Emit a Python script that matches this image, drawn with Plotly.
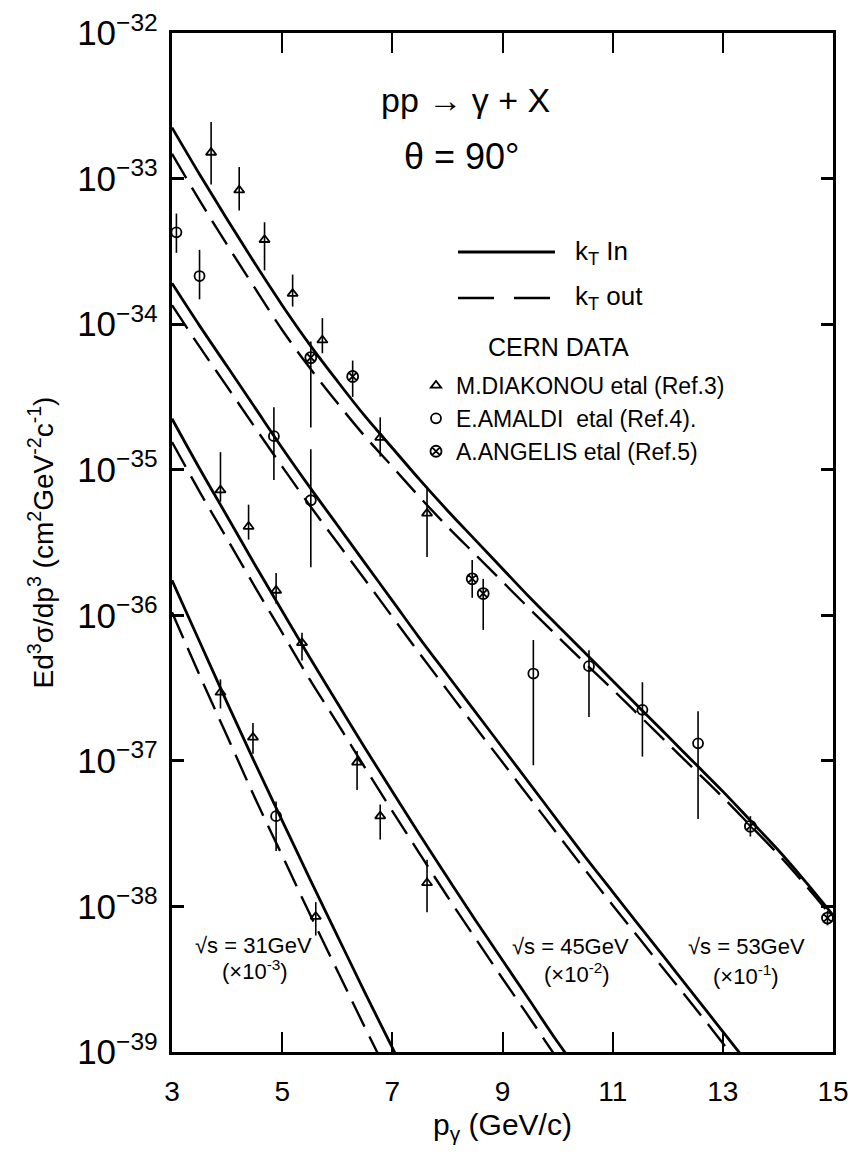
import plotly.graph_objects as go

# ---------------- data ----------------
# theory curves: solid = kT in, dashed = kT out
xA = [3, 3.5, 4, 4.5, 5, 5.5, 6, 6.5, 7, 7.5, 8, 8.5, 9, 9.5, 10, 10.5, 11, 11.5, 12, 12.5, 13, 13.5, 14, 14.5, 15]
yA_in = [2.24e-33, 1.07e-33, 5.25e-34, 2.63e-34, 1.35e-34, 7.24e-35, 4.07e-35, 2.34e-35, 1.41e-35, 8.51e-36,
         5.25e-36, 3.31e-36, 2.09e-36, 1.32e-36, 8.51e-37, 5.50e-37, 3.55e-37, 2.29e-37, 1.48e-37, 9.55e-38,
         6.17e-38, 3.89e-38, 2.45e-38, 1.48e-38, 8.71e-39]
yA_out = [1.48e-33, 7.08e-34, 3.51e-34, 1.78e-34, 9.12e-35, 5.01e-35, 2.88e-35, 1.70e-35, 1.05e-35, 6.46e-36,
          4.07e-36, 2.63e-36, 1.70e-36, 1.10e-36, 7.16e-37, 4.68e-37, 3.09e-37, 2.02e-37, 1.32e-37, 8.61e-38,
          5.62e-38, 3.59e-38, 2.29e-38, 1.40e-38, 8.32e-39]

xB = [3, 3.5, 4, 4.5, 5, 5.5, 6, 6.5, 7, 7.5, 8, 8.5, 9, 9.5, 10, 10.5, 11, 11.5, 12, 12.5, 13, 13.5]
yB_in = [1.91e-34, 9.77e-35, 5.13e-35, 2.69e-35, 1.41e-35, 7.59e-36, 4.17e-36, 2.29e-36, 1.26e-36, 6.92e-37,
         3.89e-37, 2.19e-37, 1.23e-37, 6.92e-38, 3.89e-38, 2.19e-38, 1.26e-38, 7.24e-39, 4.17e-39, 2.40e-39,
         1.38e-39, 7.94e-40]
yB_out = [1.35e-34, 7.00e-35, 3.72e-35, 1.97e-35, 1.05e-35, 5.69e-36, 3.16e-36, 1.76e-36, 9.77e-37, 5.43e-37,
          3.05e-37, 1.72e-37, 9.77e-38, 5.53e-38, 3.13e-38, 1.78e-38, 1.02e-38, 5.92e-39, 3.43e-39, 2.00e-39,
          1.15e-39, 6.61e-40]

xC = [3, 3.5, 4, 4.5, 5, 5.5, 6, 6.5, 7, 7.5, 8, 8.5, 9, 9.5, 10, 10.5]
yC_in = [2.24e-35, 1.02e-35, 4.79e-36, 2.24e-36, 1.07e-36, 5.13e-37, 2.51e-37, 1.23e-37, 6.17e-38, 3.09e-38,
         1.58e-38, 8.13e-39, 4.27e-39, 2.24e-39, 1.17e-39, 6.46e-40]
yC_out = [1.55e-35, 7.08e-36, 3.35e-36, 1.58e-36, 7.59e-37, 3.63e-37, 1.82e-37, 9.02e-38, 4.52e-38, 2.29e-38,
          1.17e-38, 6.10e-39, 3.20e-39, 1.70e-39, 8.91e-40, 4.70e-40]

xD = [3, 3.5, 4, 4.5, 5, 5.5, 6, 6.5, 7, 7.5]
yD_in = [1.74e-36, 6.61e-37, 2.51e-37, 9.77e-38, 3.89e-38, 1.55e-38, 6.31e-39, 2.57e-39, 1.07e-39, 4.47e-40]
yD_out = [1.05e-36, 3.89e-37, 1.48e-37, 5.62e-38, 2.24e-38, 8.91e-39, 3.63e-39, 1.48e-39, 6.17e-40, 2.60e-40]

# CERN data points: x, central value, upper and lower end of error bar
diak_x = [3.71, 4.22, 4.68, 5.19, 5.73, 6.78, 7.63,
          3.88, 4.39, 4.89, 5.36, 6.36, 6.78, 7.63,
          3.88, 4.47, 5.61]
diak_y = [1.51e-33, 8.32e-34, 3.80e-34, 1.62e-34, 7.76e-35, 1.66e-35, 5.01e-36,
          7.24e-36, 4.07e-36, 1.48e-36, 6.46e-37, 9.77e-38, 4.17e-38, 1.45e-38,
          2.95e-37, 1.45e-37, 8.51e-39]
diak_hi = [2.45e-33, 1.20e-33, 5.01e-34, 2.19e-34, 1.10e-34, 2.29e-35, 7.59e-36,
           1.32e-35, 5.75e-36, 1.95e-36, 7.59e-37, 1.17e-37, 5.01e-38, 2.09e-38,
           3.63e-37, 1.82e-37, 1.07e-38]
diak_lo = [9.12e-34, 6.03e-34, 2.34e-34, 1.32e-34, 6.31e-35, 1.23e-35, 2.51e-36,
           6.03e-36, 3.31e-36, 1.20e-36, 4.90e-37, 6.31e-38, 2.88e-38, 9.12e-39,
           2.29e-37, 1.12e-37, 6.31e-39]

amal_x = [3.08, 3.50, 4.85, 5.52, 9.56, 10.57, 11.54, 12.55, 4.89]
amal_y = [4.27e-34, 2.14e-34, 1.70e-35, 6.17e-36, 3.98e-37, 4.47e-37, 2.24e-37, 1.32e-37, 4.17e-38]
amal_hi = [5.75e-34, 3.24e-34, 2.69e-35, 1.38e-35, 6.76e-37, 5.75e-37, 3.47e-37, 2.19e-37, 5.25e-38]
amal_lo = [3.09e-34, 1.48e-34, 8.51e-36, 2.14e-36, 9.33e-38, 2.00e-37, 1.07e-37, 3.98e-38, 2.40e-38]

ang_x = [5.52, 6.28, 8.45, 8.65, 13.5, 14.9]
ang_y = [5.89e-35, 4.37e-35, 1.78e-36, 1.41e-36, 3.55e-38, 8.32e-39]
ang_hi = [7.59e-35, 5.62e-35, 2.40e-36, 1.78e-36, 4.17e-38, 9.33e-39]
ang_lo = [1.95e-35, 3.16e-35, 1.32e-36, 7.94e-37, 3.02e-38, 7.41e-39]

x_ticks = [3, 5, 7, 9, 11, 13, 15]
x_tick_text = ["3", "5", "7", "9", "11", "13", "15"]

# ---------------- figure ----------------
FONT = "Liberation Sans"
fig = go.Figure()

curves = [(xA, yA_in, yA_out), (xB, yB_in, yB_out), (xC, yC_in, yC_out), (xD, yD_in, yD_out)]
for xs, yin, yout in curves:
    fig.add_trace(go.Scatter(x=xs, y=yin, mode="lines", showlegend=False,
                             line=dict(color="black", width=2.8), line_shape="spline"))
    fig.add_trace(go.Scatter(x=xs, y=yout, mode="lines", showlegend=False,
                             line=dict(color="black", width=2.4, dash="28px,11px"), line_shape="spline"))


def data_trace(name, xs, ys, hi, lo, symbol, size):
    return go.Scatter(
        x=xs, y=ys, mode="markers", name=name,
        marker=dict(symbol=symbol, size=size, color="black", line=dict(color="black", width=1.8)),
        error_y=dict(type="data", symmetric=False,
                     array=[h - v for h, v in zip(hi, ys)],
                     arrayminus=[v - l for v, l in zip(ys, lo)],
                     color="black", thickness=1.6, width=0),
    )


fig.add_trace(data_trace("M.DIAKONOU etal (Ref.3)", diak_x, diak_y, diak_hi, diak_lo, "triangle-up-open", 9))
fig.add_trace(data_trace("E.AMALDI  etal (Ref.4).", amal_x, amal_y, amal_hi, amal_lo, "circle-open", 10))
fig.add_trace(data_trace("A.ANGELIS etal (Ref.5)", ang_x, ang_y, ang_hi, ang_lo, "circle-x-open", 11))

# plot area in pixels: x 172..833, y 33..1052
L, R, T, B = 172, 833, 33, 1052
W, H = 850, 1167


def px(x):
    return (x - L) / (R - L)


def py(y):
    return (B - y) / (B - T)


ann = []


def text(s, x, y, size, xanchor="center"):
    ann.append(dict(text=s, x=px(x), y=py(y), xref="paper", yref="paper", showarrow=False,
                    xanchor=xanchor, yanchor="middle", font=dict(family=FONT, size=size, color="black")))


text("pp \u2192 \u03b3 + X", 465, 100, 34)
text("\u03b8 = 90\u00b0", 462, 157, 36)
text("k<sub>T</sub> In", 573, 252, 26, "left")
text("k<sub>T</sub> out", 573, 298, 26, "left")
text("CERN DATA", 558, 347, 25)
text("\u221as = 31GeV", 253, 945, 22)
text("(\u00d710<sup>-3</sup>)", 255, 970, 22)
text("\u221as = 45GeV", 570, 946, 22)
text("(\u00d710<sup>-2</sup>)", 577, 973, 22)
text("\u221as = 53GeV", 746, 946, 22)
text("(\u00d710<sup>-1</sup>)", 746, 975, 22)

shapes = [
    dict(type="line", xref="paper", yref="paper", x0=px(458), x1=px(555), y0=py(252), y1=py(252),
         line=dict(color="black", width=2.8)),
    dict(type="line", xref="paper", yref="paper", x0=px(458), x1=px(555), y0=py(298), y1=py(298),
         line=dict(color="black", width=2.6, dash="36px,20px")),
]

fig.update_layout(
    width=W, height=H,
    margin=dict(l=L, r=W - R, t=T, b=H - B, autoexpand=False),
    paper_bgcolor="white", plot_bgcolor="white",
    font=dict(family=FONT, color="black"),
    annotations=ann, shapes=shapes,
    legend=dict(x=px(416), y=py(364), xanchor="left", yanchor="top", bgcolor="rgba(0,0,0,0)",
                font=dict(family=FONT, size=23, color="black"), tracegroupgap=0, itemwidth=30),
    xaxis=dict(range=[3, 15], tickvals=x_ticks, ticktext=x_tick_text, ticks="inside", ticklen=20,
               tickwidth=2, tickcolor="black", showline=True, linecolor="black", linewidth=2.5,
               mirror="ticks", showgrid=False, zeroline=False, ticklabeloverflow="allow", automargin=False,
               tickfont=dict(family=FONT, size=28), ticklabelstandoff=13,
               title=dict(text="p<sub>\u03b3</sub> (GeV/c)", font=dict(family=FONT, size=30), standoff=8)),
    yaxis=dict(type="log", range=[-39, -32], dtick=1, exponentformat="power", ticks="inside", ticklen=12,
               tickwidth=2.5, tickcolor="black", showline=True, linecolor="black", linewidth=2.5,
               mirror="ticks", showgrid=False, zeroline=False, automargin=False,
               tickfont=dict(family=FONT, size=28), ticklabelstandoff=6,
               title=dict(text="Ed<sup>3</sup>\u03c3/dp<sup>3</sup> (cm<sup>2</sup>GeV<sup>-2</sup>c<sup>-1</sup>)",
                          font=dict(family=FONT, size=28), standoff=16)),
)

fig.write_html("out.html")
